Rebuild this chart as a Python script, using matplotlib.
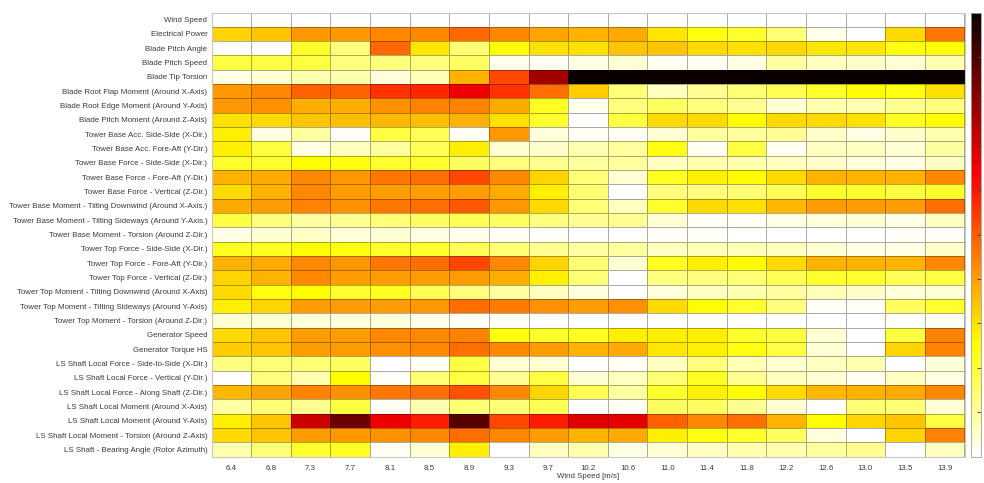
import numpy as np
import matplotlib
matplotlib.use("Agg")
import matplotlib.pyplot as plt

plt.rcParams['font.family'] = ['Liberation Sans', 'DejaVu Sans']

wind_speeds = ["6.4", "6.8", "7.3", "7.7", "8.1", "8.5", "8.9", "9.3", "9.7", "10.2",
               "10.6", "11.0", "11.4", "11.8", "12.2", "12.6", "13.0", "13.5", "13.9"]

channels = [
    "Wind Speed",
    "Electrical Power",
    "Blade Pitch Angle",
    "Blade Pitch Speed",
    "Blade Tip Torsion",
    "Blade Root Flap Moment (Around X-Axis)",
    "Blade Root Edge Moment (Around Y-Axis)",
    "Blade Pitch Moment (Around Z-Axis)",
    "Tower Base Acc. Side-Side (X-Dir.)",
    "Tower Base Acc. Fore-Aft (Y-Dir.)",
    "Tower Base Force - Side-Side (X-Dir.)",
    "Tower Base Force - Fore-Aft (Y-Dir.)",
    "Tower Base Force - Vertical (Z-Dir.)",
    "Tower Base Moment - Tilting Downwind (Around X-Axis.)",
    "Tower Base Moment - Tilting Sideways (Around Y-Axis.)",
    "Tower Base Moment - Torsion (Around Z-Dir.)",
    "Tower Top Force - Side-Side (X-Dir.)",
    "Tower Top Force - Fore-Aft (Y-Dir.)",
    "Tower Top Force - Vertical (Z-Dir.)",
    "Tower Top Moment - Tilting Downwind (Around X-Axis)",
    "Tower Top Moment - Tilting Sideways (Around Y-Axis)",
    "Tower Top Moment - Torsion (Around Z-Dir.)",
    "Generator Speed",
    "Generator Torque HS",
    "LS Shaft Local Force - Side-to-Side (X-Dir.)",
    "LS Shaft Local Force - Vertical (Y-Dir.)",
    "LS Shaft Local Force - Along Shaft (Z-Dir.)",
    "LS Shaft Local Moment (Around X-Axis)",
    "LS Shaft Local Moment (Around Y-Axis)",
    "LS Shaft Local Moment - Torsion (Around Z-Axis)",
    "LS Shaft - Bearing Angle (Rotor Azimuth)",
]

wind_speed = [0.0] * 19
electrical_power = [0.32, 0.34, 0.41, 0.41, 0.43, 0.43, 0.48, 0.43, 0.39, 0.37, 0.38, 0.29, 0.24, 0.21, 0.14, 0.02, 0.0, 0.31, 0.46]
blade_pitch_angle = [0.0, 0.0, 0.21, 0.13, 0.48, 0.29, 0.14, 0.25, 0.30, 0.30, 0.34, 0.34, 0.31, 0.30, 0.31, 0.29, 0.29, 0.24, 0.25]
blade_pitch_speed = [0.19, 0.19, 0.19, 0.13, 0.13, 0.13, 0.16, 0.02, 0.015, 0.03, 0.045, 0.015, 0.015, 0.03, 0.095, 0.063, 0.053, 0.045, 0.079]
blade_tip_torsion = [0.03, 0.045, 0.079, 0.079, 0.037, 0.071, 0.37, 0.53, 0.77, 1.0, 1.0, 1.0, 1.0, 1.0, 1.0, 1.0, 1.0, 1.0, 1.0]
blade_root_flap = [0.41, 0.43, 0.49, 0.49, 0.56, 0.575, 0.66, 0.56, 0.47, 0.33, 0.14, 0.063, 0.11, 0.14, 0.17, 0.21, 0.254, 0.24, 0.30]
blade_root_edge = [0.41, 0.42, 0.375, 0.375, 0.42, 0.44, 0.44, 0.38, 0.22, 0.02, 0.13, 0.16, 0.13, 0.11, 0.045, 0.079, 0.079, 0.11, 0.13]
blade_pitch_moment = [0.30, 0.31, 0.34, 0.35, 0.36, 0.35, 0.37, 0.30, 0.21, 0.0, 0.19, 0.31, 0.31, 0.26, 0.31, 0.31, 0.30, 0.22, 0.254]
tb_acc_ss = [0.28, 0.03, 0.095, 0.008, 0.19, 0.17, 0.015, 0.41, 0.037, 0.015, 0.015, 0.045, 0.095, 0.095, 0.11, 0.053, 0.03, 0.053, 0.079]
tb_acc_fa = [0.28, 0.19, 0.03, 0.063, 0.095, 0.17, 0.28, 0.045, 0.053, 0.079, 0.095, 0.24, 0.015, 0.19, 0.015, 0.063, 0.063, 0.045, 0.095]
tb_force_ss = [0.21, 0.21, 0.254, 0.24, 0.21, 0.21, 0.16, 0.13, 0.11, 0.095, 0.095, 0.063, 0.079, 0.079, 0.063, 0.053, 0.037, 0.03, 0.063]
tb_force_fa = [0.37, 0.38, 0.43, 0.41, 0.46, 0.47, 0.53, 0.43, 0.32, 0.14, 0.045, 0.22, 0.28, 0.26, 0.31, 0.37, 0.37, 0.37, 0.43]
tb_force_vert = [0.31, 0.37, 0.43, 0.40, 0.40, 0.40, 0.40, 0.38, 0.28, 0.14, 0.0, 0.13, 0.13, 0.14, 0.17, 0.21, 0.21, 0.19, 0.21]
tb_mom_down = [0.38, 0.40, 0.44, 0.42, 0.46, 0.47, 0.50, 0.41, 0.31, 0.14, 0.063, 0.21, 0.31, 0.30, 0.36, 0.40, 0.40, 0.40, 0.47]
tb_mom_side = [0.19, 0.13, 0.095, 0.11, 0.14, 0.16, 0.17, 0.16, 0.13, 0.11, 0.11, 0.045, 0.015, 0.015, 0.03, 0.037, 0.045, 0.03, 0.063]
tb_mom_tors = [0.03, 0.045, 0.055, 0.037, 0.045, 0.03, 0.02, 0.015, 0.008, 0.0, 0.0, 0.008, 0.008, 0.0, 0.0, 0.0, 0.0, 0.01, 0.01]
tt_force_ss = [0.22, 0.22, 0.254, 0.24, 0.21, 0.21, 0.17, 0.14, 0.11, 0.095, 0.095, 0.063, 0.071, 0.071, 0.063, 0.045, 0.03, 0.03, 0.053]
tt_force_fa = [0.37, 0.38, 0.43, 0.41, 0.46, 0.47, 0.53, 0.43, 0.32, 0.14, 0.045, 0.22, 0.28, 0.26, 0.31, 0.37, 0.37, 0.37, 0.43]
tt_force_vert = [0.32, 0.37, 0.43, 0.40, 0.40, 0.40, 0.40, 0.375, 0.28, 0.14, 0.0, 0.13, 0.13, 0.14, 0.17, 0.21, 0.21, 0.17, 0.19]
tt_mom_down = [0.31, 0.24, 0.254, 0.21, 0.22, 0.17, 0.13, 0.095, 0.063, 0.037, 0.0, 0.037, 0.063, 0.079, 0.095, 0.071, 0.053, 0.037, 0.045]
tt_mom_side = [0.28, 0.32, 0.40, 0.40, 0.40, 0.41, 0.47, 0.45, 0.42, 0.40, 0.42, 0.31, 0.254, 0.21, 0.13, 0.01, 0.01, 0.16, 0.21]
tt_mom_tors = [0.045, 0.045, 0.037, 0.037, 0.037, 0.02, 0.015, 0.008, 0.0, 0.0, 0.0, 0.005, 0.005, 0.0, 0.0, 0.0, 0.0, 0.005, 0.015]
gen_speed = [0.31, 0.34, 0.40, 0.40, 0.43, 0.43, 0.44, 0.24, 0.21, 0.22, 0.28, 0.28, 0.28, 0.21, 0.19, 0.045, 0.0, 0.19, 0.44]
gen_torque = [0.33, 0.34, 0.40, 0.40, 0.42, 0.43, 0.47, 0.43, 0.40, 0.37, 0.38, 0.29, 0.28, 0.24, 0.19, 0.045, 0.0, 0.32, 0.44]
ls_force_ss = [0.13, 0.14, 0.14, 0.16, 0.0, 0.015, 0.19, 0.045, 0.045, 0.0, 0.015, 0.063, 0.13, 0.071, 0.045, 0.063, 0.079, 0.0, 0.04]
ls_force_vert = [0.0, 0.13, 0.079, 0.254, 0.01, 0.14, 0.19, 0.11, 0.19, 0.045, 0.063, 0.14, 0.22, 0.11, 0.063, 0.045, 0.015, 0.063, 0.03]
ls_force_axial = [0.36, 0.39, 0.44, 0.42, 0.46, 0.47, 0.515, 0.43, 0.32, 0.17, 0.095, 0.21, 0.28, 0.254, 0.31, 0.36, 0.37, 0.38, 0.43]
ls_mom_x = [0.09, 0.14, 0.11, 0.19, 0.015, 0.079, 0.14, 0.14, 0.17, 0.0, 0.015, 0.16, 0.16, 0.11, 0.045, 0.0, 0.14, 0.14, 0.045]
ls_mom_y = [0.28, 0.34, 0.71, 0.85, 0.66, 0.59, 0.885, 0.53, 0.59, 0.68, 0.675, 0.49, 0.43, 0.47, 0.37, 0.254, 0.32, 0.34, 0.19]
ls_mom_tors = [0.31, 0.34, 0.40, 0.41, 0.42, 0.43, 0.47, 0.43, 0.40, 0.37, 0.38, 0.28, 0.24, 0.21, 0.16, 0.037, 0.0, 0.32, 0.44]
ls_bearing = [0.079, 0.14, 0.21, 0.22, 0.015, 0.045, 0.28, 0.0, 0.063, 0.079, 0.03, 0.045, 0.063, 0.079, 0.079, 0.095, 0.11, 0.0, 0.063]

values = np.array([
    wind_speed, electrical_power, blade_pitch_angle, blade_pitch_speed, blade_tip_torsion,
    blade_root_flap, blade_root_edge, blade_pitch_moment, tb_acc_ss, tb_acc_fa,
    tb_force_ss, tb_force_fa, tb_force_vert, tb_mom_down, tb_mom_side, tb_mom_tors,
    tt_force_ss, tt_force_fa, tt_force_vert, tt_mom_down, tt_mom_side, tt_mom_tors,
    gen_speed, gen_torque, ls_force_ss, ls_force_vert, ls_force_axial,
    ls_mom_x, ls_mom_y, ls_mom_tors, ls_bearing,
])

W, H = 984, 483
fig = plt.figure(figsize=(W / 100, H / 100), dpi=100)
ax = fig.add_axes([211.5 / W, 1 - 456.5 / H, (964.5 - 211.5) / W, (456.5 - 12.5) / H])

cmap = plt.get_cmap('hot_r')
mesh = ax.pcolormesh(np.arange(len(wind_speeds) + 1), np.arange(len(channels) + 1), values,
                     cmap=cmap, vmin=0, vmax=1, edgecolors=(0, 0, 0, 0.33), linewidth=0.6)
ax.set_xlim(0, len(wind_speeds))
ax.set_ylim(len(channels), 0)

txt_color = '#3a3a3a'
fs = 5.65
ax.set_xticks(np.arange(len(wind_speeds)) + 0.5)
ax.set_xticklabels(wind_speeds, fontsize=fs, color=txt_color)
ax.set_yticks(np.arange(len(channels)) + 0.5)
ax.set_yticklabels(channels, fontsize=fs, color=txt_color)
ax.tick_params(axis='both', length=0)
ax.tick_params(axis='x', pad=6)
ax.tick_params(axis='y', pad=3)
ax.set_xlabel('Wind Speed [m/s]', fontsize=fs, color=txt_color, labelpad=1.2)
for s in ax.spines.values():
    s.set_color('#c8c8c8')
    s.set_linewidth(0.8)

cax = fig.add_axes([970.5 / W, 1 - 456.5 / H, 10.5 / W, (456.5 - 12.5) / H])
cb = fig.colorbar(mesh, cax=cax)
cb.set_ticks(np.arange(0.1, 0.95, 0.1))
cb.ax.tick_params(direction='in', length=3, width=0.6, color='#404040', labelright=False, right=True)
cb.outline.set_edgecolor('#a0a0a0')
cb.outline.set_linewidth(0.6)

fig.savefig('out.png', dpi=100)
